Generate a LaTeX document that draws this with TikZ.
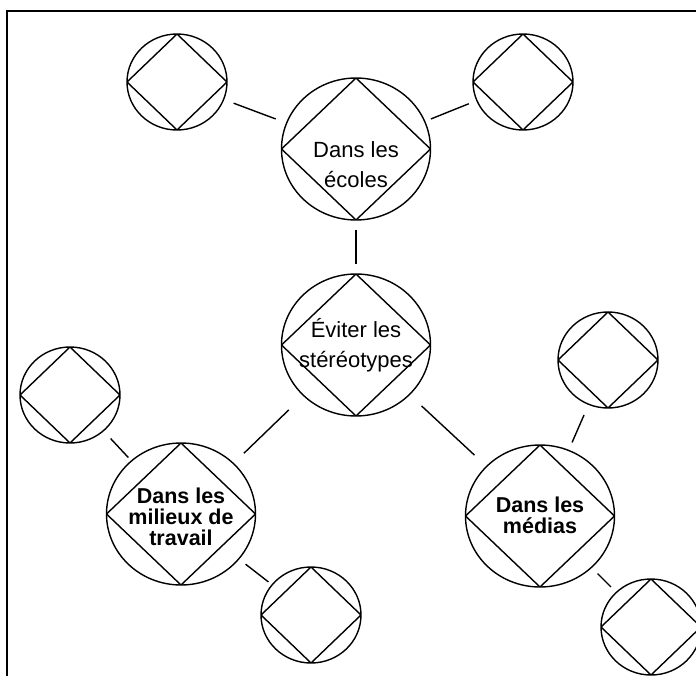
\documentclass[tikz,border=0pt]{standalone}
\usepackage{fontspec}
\setmainfont{Liberation Sans}
\usetikzlibrary{shapes.geometric}

\tikzset{
  bubble/.style={draw, ellipse, inner sep=0pt, line width=1.4pt,
    path picture={\draw[line width=1.4pt] (path picture bounding box.north)
      -- (path picture bounding box.east) -- (path picture bounding box.south)
      -- (path picture bounding box.west) -- cycle;}},
  big/.style={bubble, minimum width=149pt, minimum height=142pt},
  small/.style={bubble, minimum width=100pt, minimum height=96pt},
  plain/.style={align=center, inner sep=0pt, font=\fontsize{22}{30}\selectfont},
  strong/.style={align=center, inner sep=0pt, font=\bfseries\fontsize{21.5}{21}\selectfont},
  link/.style={line width=1.4pt}
}

\begin{document}
\begin{tikzpicture}[x=1pt, y=-1pt]
\useasboundingbox (0,0) rectangle (696,675);
\clip (0,0) rectangle (696,675);
\draw[line width=1.6pt] (7,11) rectangle (720,700);

% main bubbles
\node[big] (ecoles) at (356,149) {};
\node[big] (ctr) at (356,345) {};
\node[big] (milieux) at (181,514) {};
\node[big] (medias) at (540,516) {};

\node[plain] (ecolesTxt) at (356,165) {Dans les\\écoles};
\node[plain] (ctrTxt) at (356,345) {Éviter les\\stéréotypes};
\node[strong] (milieuxTxt) at (181,517) {Dans les\\milieux de\\travail};
\node[strong] (mediasTxt) at (540,515) {Dans les\\médias};

% empty bubbles
\node[small] (ecolesL) at (177,82) {};
\node[small] (ecolesR) at (523,82) {};
\node[small] (milieuxL) at (70,395) {};
\node[small] (milieuxB) at (311,615) {};
\node[small] (mediasT) at (608,360) {};
\node[small] (mediasB) at (651,627) {};

\draw[link, shorten <=9.5pt, shorten >=9.5pt] (ecoles) -- (ctr);
\draw[link, shorten <=11pt, shorten >=10pt] (ecoles) -- (ecolesL);
\draw[link, shorten <=6pt, shorten >=8pt] (ecoles) -- (ecolesR);
\draw[link, shorten <=20pt, shorten >=14pt] (ctr) -- (milieux);
\draw[link, shorten <=16pt, shorten >=16pt] (ctr) -- (medias);
\draw[link, shorten <=4pt, shorten >=10pt] (milieux) -- (milieuxL);
\draw[link, shorten <=8pt, shorten >=4pt] (milieux) -- (milieuxB);
\draw[link, shorten <=8pt, shorten >=11pt] (medias) -- (mediasT);
\draw[link, shorten <=8pt, shorten >=7pt] (medias) -- (mediasB);
\end{tikzpicture}
\end{document}
